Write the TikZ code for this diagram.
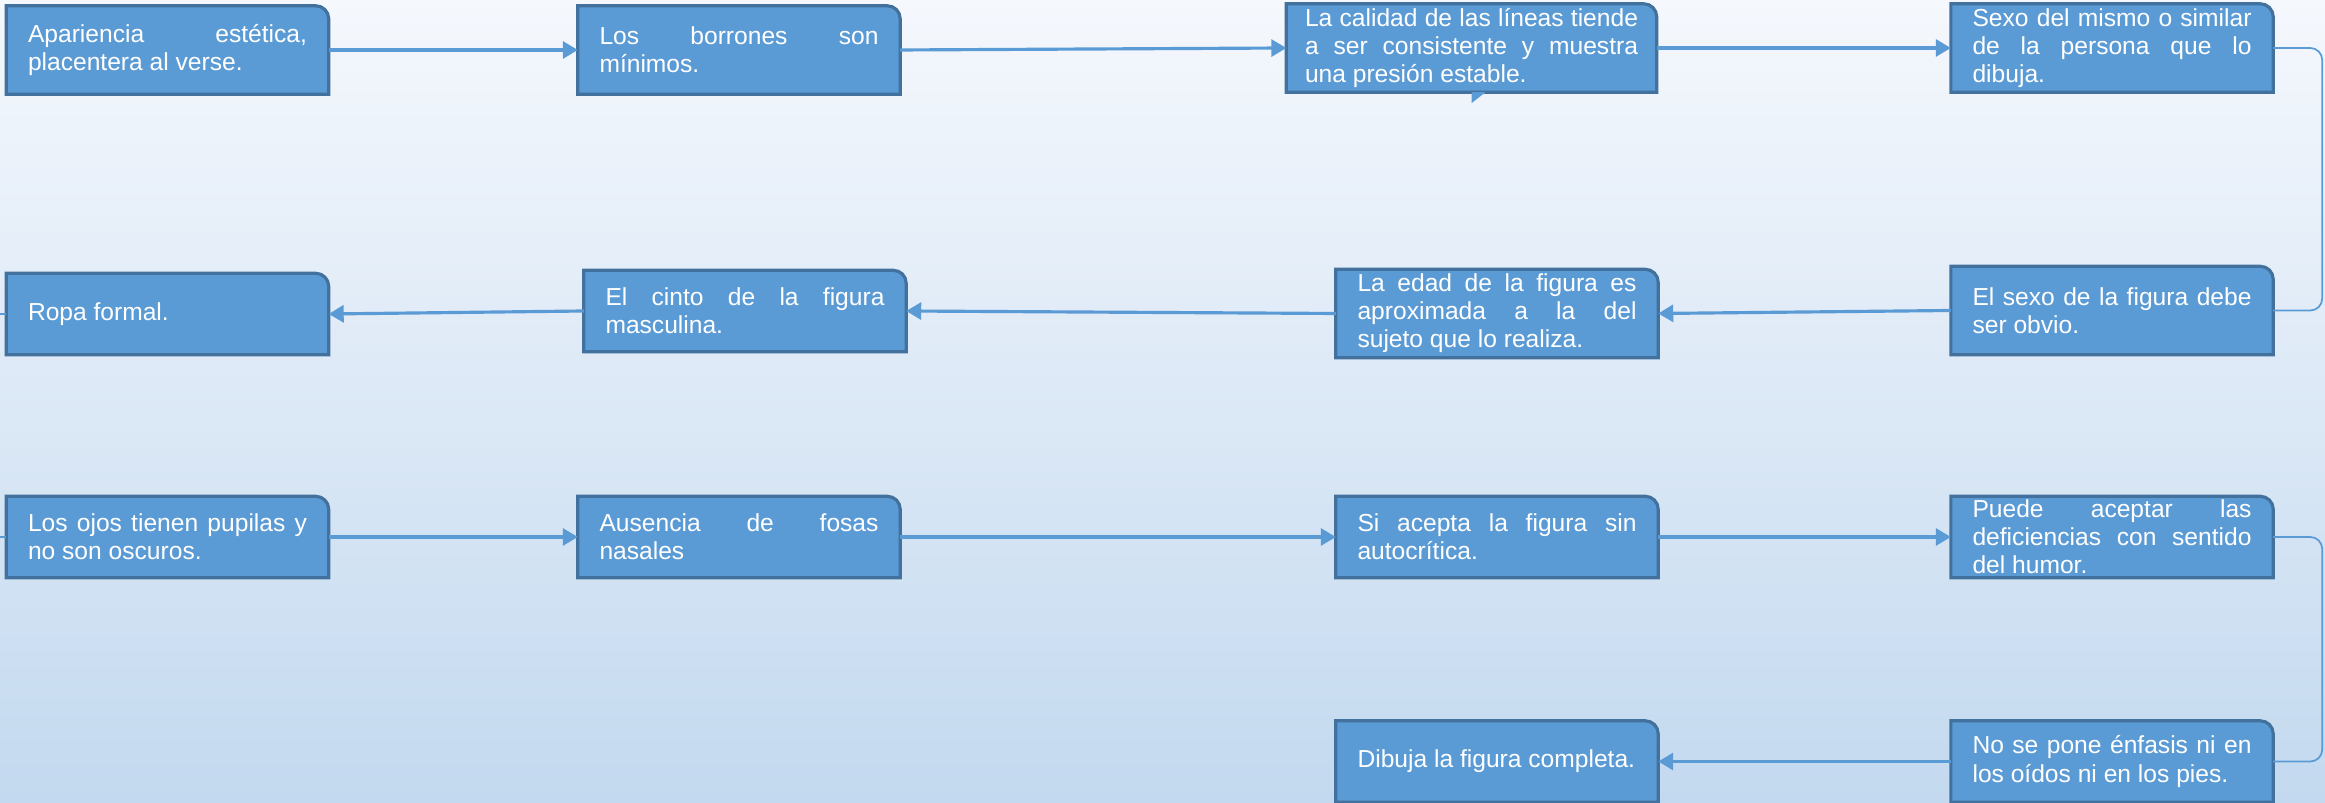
\documentclass[tikz,border=0pt]{standalone}
\usepackage{fontspec}
\setmainfont{Liberation Sans}
\usetikzlibrary{arrows.meta,backgrounds}
\definecolor{azulcaja}{HTML}{5B9BD5}
\definecolor{bordecaja}{HTML}{41719C}
\definecolor{fondoarriba}{HTML}{F5F8FD}
\definecolor{fondoabajo}{HTML}{C3D9EF}

\tikzset{
  caja/.style={rectangle, text=white, text width=2.79cm, inner xsep=0.21cm, inner ysep=0.5pt,
    minimum height=0.8cm, align=justify, font=\fontsize{7}{8}\selectfont},
  alta/.style={minimum height=0.87cm},
  flecha/.style={draw=azulcaja, line width=0.9pt, -{Triangle[length=1.5mm,width=1.7mm]}},
  enlace/.style={draw=azulcaja, line width=0.5pt, rounded corners=1.2mm},
  forma/.style={fill=azulcaja, draw=bordecaja, line width=0.9pt}
}

\begin{document}
\begin{tikzpicture}
    \useasboundingbox (0,0) rectangle (23.25,8.03);
    % fila 1
    \node[caja,alta] (estetica) at (1.675,7.53) {Apariencia estética,\linebreak placentera al verse.};
    \node[caja,alta] (borrones) at (7.39,7.53) {Los borrones son\linebreak mínimos.};
    \node[caja,alta,text width=3.33cm,inner xsep=0.18cm] (calidad) at (14.715,7.55)
      {La calidad de las líneas tiende\linebreak a ser consistente y muestra\linebreak una presión estable.};
    \node[caja,alta] (sexo) at (21.12,7.55) {Sexo del mismo o similar\linebreak de la persona que lo\linebreak dibuja.};
    % fila 2
    \node[caja,alta] (sexofig) at (21.12,4.925) {El sexo de la figura debe\linebreak ser obvio.};
    \node[caja,alta] (edad) at (14.97,4.895) {La edad de la figura es\linebreak aproximada a la del\linebreak sujeto que lo realiza.};
    \node[caja] (cinto) at (7.45,4.92) {El cinto de la figura\linebreak masculina.};
    \node[caja] (ropa) at (1.675,4.89) {Ropa formal.};
    % fila 3
    \node[caja] (ojos) at (1.675,2.66) {Los ojos tienen pupilas y\linebreak no son oscuros.};
    \node[caja] (fosas) at (7.39,2.66) {Ausencia de fosas\linebreak nasales};
    \node[caja] (acepta) at (14.97,2.66) {Si acepta la figura sin\linebreak autocrítica.};
    \node[caja] (humor) at (21.12,2.66) {Puede aceptar las\linebreak deficiencias con sentido\linebreak del humor.};
    % fila 4
    \node[caja] (enfasis) at (21.12,0.415) {No se pone énfasis ni en\linebreak los oídos ni en los pies.};
    \node[caja] (completa) at (14.97,0.415) {Dibuja la figura completa.};

    \coordinate (margenropa) at (0,4.89);
    \coordinate (margenojos) at (0,2.66);

    \draw[flecha] (estetica.east) -- (borrones.west);
    \draw[flecha] (borrones.east) -- (calidad.west);
    \draw[flecha] (calidad.east) -- (sexo.west);
    \draw[enlace] (sexo.east) -- ++(0.49,0) |- (sexofig.east);
    \draw[flecha] (sexofig.west) -- (edad.east);
    \draw[flecha] (edad.west) -- (cinto.east);
    \draw[flecha] (cinto.west) -- (ropa.east);
    \draw[enlace] (margenropa) -- (ropa.west);
    \draw[enlace] (margenojos) -- (ojos.west);
    \draw[flecha] (ojos.east) -- (fosas.west);
    \draw[flecha] (fosas.east) -- (acepta.west);
    \draw[flecha] (acepta.east) -- (humor.west);
    \draw[enlace] (humor.east) -- ++(0.49,0) |- (enfasis.east);
    \draw[flecha] (enfasis.west) -- (completa.east);

    \fill[azulcaja] (calidad.south) -- ++(0.14,0) -- ++(-0.14,-0.11) -- cycle;

    \begin{scope}[on background layer]
      \shade[top color=fondoarriba, bottom color=fondoabajo] (0,0) rectangle (23.25,8.03);
      \foreach \n in {estetica,borrones,calidad,sexo,sexofig,edad,cinto,ropa,ojos,fosas,acepta,humor,enfasis,completa}
      {
        \filldraw[forma] (\n.south west) -- (\n.north west) -- ([xshift=-1.3mm]\n.north east)
          arc[start angle=90, end angle=0, radius=1.3mm] -- (\n.south east) -- cycle;
      }
    \end{scope}
\end{tikzpicture}
\end{document}
